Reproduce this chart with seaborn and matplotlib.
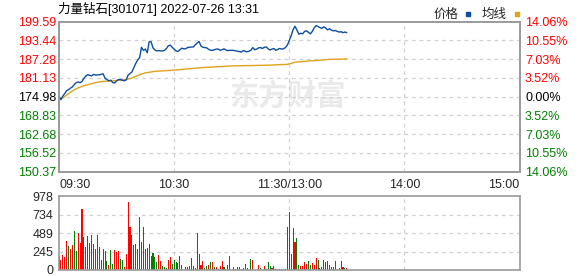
import matplotlib
matplotlib.use("Agg")
import matplotlib.pyplot as plt
from matplotlib.lines import Line2D
import seaborn as sns
import pandas as pd

# ---------------- data ----------------
title = "力量钻石[301071] 2022-07-26 13:31"
pre_close = 174.98
price_ticks = [199.59, 193.44, 187.28, 181.13, 174.98, 168.83, 162.68, 156.52, 150.37]
pct_labels = ["14.06%", "10.55%", "7.03%", "3.52%", "0.00%", "3.52%", "7.03%", "10.55%", "14.06%"]
vol_ticks = [0, 245, 489, 734, 978]
time_ticks = [0, 60, 120, 180, 240]
time_labels = ["09:30", "10:30", "11:30/13:00", "14:00", "15:00"]
legend_labels = ["价格", "均线"]

price = [
    175.0, 174.0, 175.2, 176.0, 177.0, 177.3, 177.8, 178.2, 179.0, 179.6,
    179.8, 179.6, 180.0, 181.0, 181.8, 182.2, 182.0, 181.8, 182.3, 182.1,
    182.1, 182.2, 182.3, 182.5, 181.0, 180.6, 180.2, 180.4, 179.6, 179.5,
    180.2, 180.6, 180.6, 180.4, 180.2, 180.5, 182.0, 182.6, 183.1, 184.5,
    185.9, 187.0, 187.8, 191.2, 190.2, 190.6, 189.4, 193.0, 193.0, 191.0,
    190.3, 190.0, 190.1, 190.0, 190.0, 190.2, 190.8, 191.7, 191.9, 191.2,
    190.6, 190.0, 189.8, 190.4, 190.9, 190.7, 190.7, 191.1, 191.2, 191.3,
    191.3, 192.0, 192.6, 193.1, 191.6, 191.2, 191.1, 191.0, 190.5, 190.2,
    190.2, 190.4, 190.6, 190.6, 190.2, 190.4, 190.7, 190.3, 190.1, 190.2,
    190.2, 190.2, 190.0, 189.9, 189.8, 189.6, 190.1, 189.9, 189.7, 189.9,
    190.2, 191.1, 190.4, 190.6, 191.0, 191.1, 190.8, 191.2, 191.3, 190.7,
    190.3, 190.6, 190.8, 190.2, 190.5, 190.8, 190.6, 190.7, 191.1, 191.9,
    193.4, 195.0, 197.0, 198.1, 196.8, 195.5, 195.8, 195.6, 196.4, 196.6,
    196.1, 195.6, 196.4, 197.6, 198.3, 198.0, 197.7, 197.4, 197.9, 197.5,
    196.9, 197.3, 196.8, 196.6, 196.7, 196.4, 196.2, 196.3, 196.0, 196.2,
    196.0,
]

avg_minute = [0, 1, 2, 4, 6, 9, 12, 15, 19, 23, 29, 35, 38, 42, 45, 50, 55, 60,
              67, 74, 82, 91, 100, 108, 119, 121, 123, 128, 135, 140, 150]
avg_price = [174.98, 174.3, 174.6, 175.5, 176.5, 177.6, 178.4, 178.9, 179.6, 180.0,
             180.2, 180.6, 181.1, 182.2, 182.8, 183.3, 183.5, 183.7, 184.1, 184.5,
             184.8, 185.1, 185.2, 185.3, 185.6, 185.9, 186.3, 186.6, 186.9, 187.2,
             187.35]

volume = [
    191, 138, 204, 178, 391, 315, 284, 337, 511, 249,
    497, 364, 808, 435, 302, 448, 364, 471, 351, 284,
    462, 311, 129, 284, 249, 115, 71, 271, 84, 271,
    235, 258, 151, 138, 36, 218, 897, 568, 471, 337,
    346, 284, 702, 377, 577, 284, 293, 351, 191, 231,
    173, 107, 204, 124, 53, 40, 31, 133, 175, 85,
    129, 107, 89, 182, 62, 5, 36, 36, 49, 155,
    49, 27, 488, 209, 62, 115, 22, 49, 62, 102,
    102, 36, 36, 13, 49, 115, 36, 13, 62, 182,
    4, 36, 9, 36, 36, 9, 22, 75, 22, 4,
    142, 129, 4, 4, 62, 22, 4, 49, 9, 102,
    49, 22, 49, 9, 9, 9, 9, 9, 10, 566,
    766, 215, 557, 378, 423, 70, 55, 55, 110, 82,
    125, 70, 95, 70, 163, 136, 28, 45, 136, 110,
    122, 70, 45, 45, 120, 10, 30, 120, 45, 25,
    30,
]
vol_dir = list(
    "grrrrgrrgg"
    "rrrrggrrgr"
    "rrgrggrggr"
    "rrggrrrrrr"
    "rgrrgrgrrg"
    "ggrrgggrrg"
    "gggrgrrrrr"
    "rgrgrrggrg"
    "rgrgrrgrrr"
    "rggggrrrgr"
    "grggrgrrgg"
    "grgrggrrrr"
    "rrrrggrrrr"
    "ggrrrggrgr"
    "ggrgrgggrg"
    "r"
)

# ---------------- style ----------------
BLUE = "#0d4ea3"
GOLD = "#e0a21c"
RED = "#ff0000"
GREEN = "#008000"
FRAME = "#9a9a9a"
GRID = "#d0d0d0"

sns.set_theme(style="white")
plt.rcParams["font.family"] = ["Liberation Sans", "Noto Sans CJK SC", "DejaVu Sans"]
plt.rcParams["font.size"] = 9

W, H = 578, 276
fig = plt.figure(figsize=(W / 100, H / 100), dpi=100)
fig.patch.set_facecolor("white")

def fx(px):
    return px / W

def fy(py):
    return 1 - py / H

ax = fig.add_axes([fx(59), fy(171.7), fx(519.5) - fx(59), fy(21.7) - fy(171.7)])
axv = fig.add_axes([fx(59), fy(270), fx(519.5) - fx(59), fy(196.3) - fy(270)])

df_p = pd.DataFrame({"minute": list(range(len(price))), "price": price})
df_a = pd.DataFrame({"minute": avg_minute, "avg": avg_price})
df_v = pd.DataFrame({"minute": list(range(len(volume))), "vol": volume, "dir": vol_dir})

def dashed_grid(a, hvals, vvals):
    for v in hvals:
        a.axhline(v, color=GRID, lw=0.9, ls=(0, (3, 3)), zorder=0.5)
    for t in vvals:
        a.axvline(t, color=GRID, lw=0.9, ls=(0, (3, 3)), zorder=0.5)

# ---- price panel ----
sns.lineplot(data=df_a, x="minute", y="avg", ax=ax, color=GOLD, linewidth=1.0, zorder=3)
sns.lineplot(data=df_p, x="minute", y="price", ax=ax, color=BLUE, linewidth=1.0, zorder=4)

ax.set_xlim(0, 240)
ax.set_ylim(price_ticks[-1], price_ticks[0])
ax.set_yticks(price_ticks)
ax.set_yticklabels([f"{v:.2f}" for v in price_ticks])
ax.set_xticks(time_ticks)
ax.set_xticklabels(time_labels)
ax.set_xlabel("")
ax.set_ylabel("")
ax.tick_params(axis="both", length=0, labelsize=9)
ax.tick_params(axis="y", pad=2)
ax.tick_params(axis="x", pad=5)
xl = ax.get_xticklabels()
xl[0].set_ha("left")
xl[-1].set_ha("right")
for lab, v in zip(ax.get_yticklabels(), price_ticks):
    lab.set_color(RED if v > pre_close else (GREEN if v < pre_close else "black"))
dashed_grid(ax, price_ticks[1:-1], time_ticks[1:-1])

ax2 = ax.twinx()
ax2.set_ylim(ax.get_ylim())
ax2.set_yticks(price_ticks)
ax2.set_yticklabels(pct_labels)
ax2.tick_params(axis="y", length=0, labelsize=9, pad=4)
for lab, v in zip(ax2.get_yticklabels(), price_ticks):
    lab.set_color(RED if v > pre_close else (GREEN if v < pre_close else "black"))
ax2.grid(False)

for a in (ax, ax2, axv):
    for s in a.spines.values():
        s.set_color(FRAME)
        s.set_linewidth(1.2)

# watermark
ax.text(0.497, 0.505, "东方财富", transform=ax.transAxes, ha="center", va="center",
        fontsize=21, fontweight="bold", color="#eaeaea", zorder=0.2,
        family=["Noto Sans CJK SC"])

# legend (text before marker)
handles = [Line2D([], [], color=BLUE, marker="s", ls="", markersize=3),
           Line2D([], [], color=GOLD, marker="s", ls="", markersize=3)]
leg = ax.legend(handles, legend_labels, markerfirst=False, ncol=2, frameon=False,
                loc="lower right", bbox_to_anchor=(1.005, 0.995), fontsize=9,
                handlelength=0.6, handletextpad=0.5, columnspacing=0.8,
                borderpad=0.1, borderaxespad=0.0)

fig.text(fx(58), fy(9), title, ha="left", va="center", fontsize=9, color="black")

# ---- volume panel ----
sns.barplot(data=df_v, x="minute", y="vol", hue="dir", palette={"r": RED, "g": GREEN},
            native_scale=True, width=0.55, dodge=False, errorbar=None, legend=False,
            ax=axv, linewidth=0, saturation=1)
for p in axv.patches:
    p.set_antialiased(False)
    p.set_zorder(2)
axv.set_xlim(0, 240)
axv.set_ylim(0, 978)
axv.set_yticks(vol_ticks)
axv.set_yticklabels([str(v) for v in vol_ticks])
axv.set_xticks([])
axv.set_xlabel("")
axv.set_ylabel("")
axv.tick_params(axis="both", length=0, labelsize=9)
axv.tick_params(axis="y", pad=4)
dashed_grid(axv, vol_ticks[1:-1], time_ticks[1:-1])

fig.savefig("out.png", dpi=100, facecolor="white")
